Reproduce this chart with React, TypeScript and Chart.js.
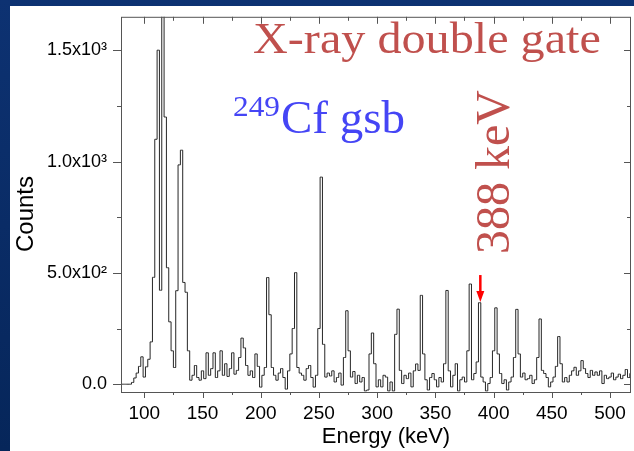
import React, { useEffect, useRef } from "react";
import { Chart, registerables } from "chart.js";

Chart.register(...registerables);

// ---- data ----
const BIN_START_KEV = 80;
const BIN_WIDTH_KEV = 2;
// counts per 2 keV bin, starting at 80 keV
const COUNTS: number[] = [
  0, 0, 0, 0, 0, 8, 28, 50, 80, 123, // 80-98
  32, 78, 112, 190, 480, 1100, 1500, 422, 1900, 1200, // 100-118
  523, 280, 150, 75, 420, 985, 1051, 457, 413, 150, // 120-138
  18, 40, 84, 30, 18, 60, 25, 141, 40, 70, // 140-158
  141, 30, 60, 150, 40, 92, 35, 70, 141, 45, // 160-178
  62, 120, 207, 163, 84, 40, 60, 30, 136, 80, // 180-198
  -13, 40, 75, 479, 312, 75, 40, 18, 50, 70, // 200-218
  30, -22, 60, 136, 250, 501, 75, 50, 40, 18, // 220-238
  70, 84, 30, -13, 40, 250, 930, 179, 32, 50, // 240-258
  37, 60, 10, 30, 50, -4, 120, 330, 150, 32, // 260-278
  57, 3, 40, 10, 30, -30, -26, 136, 230, 92, // 280-298
  -12, 20, -12, 40, 32, -30, 10, -30, 224, 337, // 300-318
  62, 3, 40, 25, 50, -12, 60, 91, 62, 399, // 320-338
  136, 20, -26, 30, 48, 20, -12, 30, 10, 92, // 340-358
  421, 60, -12, 40, 92, -30, 20, 32, 10, 150, // 360-378
  450, 20, 48, 100, 366, 32, 10, -30, 3, 30, // 380-398
  150, 343, 136, 48, 3, 20, -26, 10, 32, 120, // 400-418
  336, 136, 32, 50, 20, 25, 40, 3, 20, 120, // 420-438
  293, 62, 48, 30, -12, 10, 32, 80, 214, 92, // 440-458
  10, 30, 10, 40, 60, 76, 40, 60, 106, 70, // 460-478
  48, 30, 62, 40, 55, 40, 60, 3, 40, 25, // 480-498
  32, 50, 20, 32, 45, 25, 40, 66, 30, 48, // 500-518
];

const X_MIN = 80;
const X_MAX = 518;
const Y_MIN = -35;
const Y_MAX = 1650;

const X_MAJOR_TICKS = [100, 150, 200, 250, 300, 350, 400, 450, 500];
const X_MINOR_TICKS = [125, 175, 225, 275, 325, 375, 425, 475];
const Y_MAJOR_TICKS = [0, 500, 1000, 1500];
const Y_MINOR_TICKS = [250, 750, 1250];
const Y_TICK_LABELS = ["0.0", "5.0x10²", "1.0x10³", "1.5x10³"];

const X_TITLE = "Energy (keV)";
const Y_TITLE = "Counts";
const GATE_LABEL = "X-ray double gate";
const BAND_MASS = "249";
const BAND_LABEL = "Cf gsb";
const PEAK_LABEL = "388 keV";
const ARROW_ENERGY = 388.6;
const ARROW_COUNTS = 369;

const AXIS_FONT = '"Liberation Sans", Arial, sans-serif';
const SERIF_FONT = '"Liberation Serif", "Times New Roman", serif';

const framePlugin = {
  id: "frameAndNotes",
  afterDraw(chart: any) {
    const { ctx, chartArea: a, scales } = chart;
    const xs = scales.x;
    const ys = scales.y;
    ctx.save();
    // frame
    ctx.strokeStyle = "#555";
    ctx.lineWidth = 1;
    ctx.strokeRect(a.left + 0.5, a.top + 0.5, a.right - a.left - 1, a.bottom - a.top);
    ctx.beginPath();
    const tick = (x1: number, y1: number, x2: number, y2: number) => {
      ctx.moveTo(x1, y1);
      ctx.lineTo(x2, y2);
    };
    for (const v of X_MAJOR_TICKS) {
      const px = Math.round(xs.getPixelForValue(v)) + 0.5;
      tick(px, a.bottom, px, a.bottom + 6);
      tick(px, a.top, px, a.top + 7);
    }
    for (const v of X_MINOR_TICKS) {
      const px = Math.round(xs.getPixelForValue(v)) + 0.5;
      tick(px, a.bottom, px, a.bottom + 3);
      tick(px, a.top, px, a.top + 4);
    }
    for (const v of Y_MAJOR_TICKS) {
      const py = Math.round(ys.getPixelForValue(v)) + 0.5;
      tick(a.left - 8, py, a.left, py);
      tick(a.right, py, a.right - 7, py);
    }
    for (const v of Y_MINOR_TICKS) {
      const py = Math.round(ys.getPixelForValue(v)) + 0.5;
      tick(a.left - 4, py, a.left, py);
      tick(a.right, py, a.right - 4, py);
    }
    ctx.stroke();

    // axis titles
    ctx.fillStyle = "#000";
    ctx.font = `22px ${AXIS_FONT}`;
    ctx.textAlign = "center";
    ctx.textBaseline = "middle";
    ctx.fillText(X_TITLE, 386, 437);
    ctx.font = `24px ${AXIS_FONT}`;
    ctx.save();
    ctx.translate(26, 214);
    ctx.rotate(-Math.PI / 2);
    ctx.fillText(Y_TITLE, 0, 0);
    ctx.restore();

    // annotations
    ctx.textAlign = "left";
    ctx.textBaseline = "alphabetic";
    ctx.fillStyle = "#c0504d";
    ctx.font = `44px ${SERIF_FONT}`;
    ctx.save();
    ctx.translate(253, 53);
    ctx.scale(1.095, 1);
    ctx.fillText(GATE_LABEL, 0, 0);
    ctx.restore();

    ctx.fillStyle = "#4545f5";
    ctx.font = `29px ${SERIF_FONT}`;
    ctx.save();
    ctx.translate(233, 116);
    ctx.scale(1.08, 1);
    ctx.fillText(BAND_MASS, 0, 0);
    ctx.restore();
    ctx.font = `47px ${SERIF_FONT}`;
    ctx.fillText(BAND_LABEL, 281, 133);

    ctx.fillStyle = "#c0504d";
    ctx.font = `48px ${SERIF_FONT}`;
    ctx.save();
    ctx.translate(509, 254);
    ctx.rotate(-Math.PI / 2);
    ctx.fillText(PEAK_LABEL, 0, 0);
    ctx.restore();

    // arrow
    const ax = xs.getPixelForValue(ARROW_ENERGY);
    const tipY = ys.getPixelForValue(ARROW_COUNTS);
    ctx.strokeStyle = "#ff0000";
    ctx.fillStyle = "#ff0000";
    ctx.lineWidth = 2.5;
    ctx.beginPath();
    ctx.moveTo(ax, tipY - 27);
    ctx.lineTo(ax, tipY - 9);
    ctx.stroke();
    ctx.beginPath();
    ctx.moveTo(ax - 4, tipY - 11);
    ctx.lineTo(ax + 4, tipY - 11);
    ctx.lineTo(ax, tipY);
    ctx.closePath();
    ctx.fill();
    ctx.restore();
  },
};

export default function App() {
  const ref = useRef<HTMLCanvasElement | null>(null);
  useEffect(() => {
    if (!ref.current) return;
    const points = COUNTS.map((c, i) => ({ x: BIN_START_KEV + i * BIN_WIDTH_KEV, y: c }));
    const chart = new Chart(ref.current, {
      type: "line",
      data: {
        datasets: [
          {
            data: points,
            borderColor: "#262626",
            borderWidth: 1,
            pointRadius: 0,
            stepped: "middle",
            fill: false,
          },
        ],
      },
      options: {
        animation: false,
        responsive: false,
        devicePixelRatio: 1,
        layout: { padding: { top: 9, right: 3, left: 0, bottom: 0 } },
        plugins: { legend: { display: false }, tooltip: { enabled: false } },
        scales: {
          x: {
            type: "linear",
            min: X_MIN,
            max: X_MAX,
            afterFit: (s: any) => {
              s.height = 59;
            },
            afterBuildTicks: (s: any) => {
              s.ticks = X_MAJOR_TICKS.map((v) => ({ value: v }));
            },
            grid: { display: false, drawTicks: true, tickLength: 8 },
            border: { display: false },
            ticks: {
              autoSkip: false,
              maxRotation: 0,
              padding: 2,
              color: "#000",
              font: { family: AXIS_FONT, size: 19 },
              callback: (v: any) => String(v),
            },
          },
          y: {
            type: "linear",
            min: Y_MIN,
            max: Y_MAX,
            afterFit: (s: any) => {
              s.width = 121;
            },
            afterBuildTicks: (s: any) => {
              s.ticks = Y_MAJOR_TICKS.map((v) => ({ value: v }));
            },
            grid: { display: false, drawTicks: true, tickLength: 8 },
            border: { display: false },
            ticks: {
              autoSkip: false,
              padding: 6,
              color: "#000",
              font: { family: AXIS_FONT, size: 18 },
              callback: (v: any) => {
                const i = Y_MAJOR_TICKS.indexOf(Number(v));
                return i >= 0 ? Y_TICK_LABELS[i] : "";
              },
            },
          },
        },
      },
      plugins: [framePlugin],
    });
    return () => chart.destroy();
  }, []);

  return (
    <div
      style={{
        position: "fixed",
        left: 0,
        top: 0,
        width: 634,
        height: 451,
        background: "linear-gradient(180deg, #0d3272 0%, #0a2c66 50%, #06265a 100%)",
      }}
    >
      <div style={{ position: "absolute", left: 10, top: 6, right: 0, bottom: 0, background: "#fff" }} />
      <canvas ref={ref} width={634} height={451} style={{ position: "absolute", left: 0, top: 0 }} />
    </div>
  );
}
